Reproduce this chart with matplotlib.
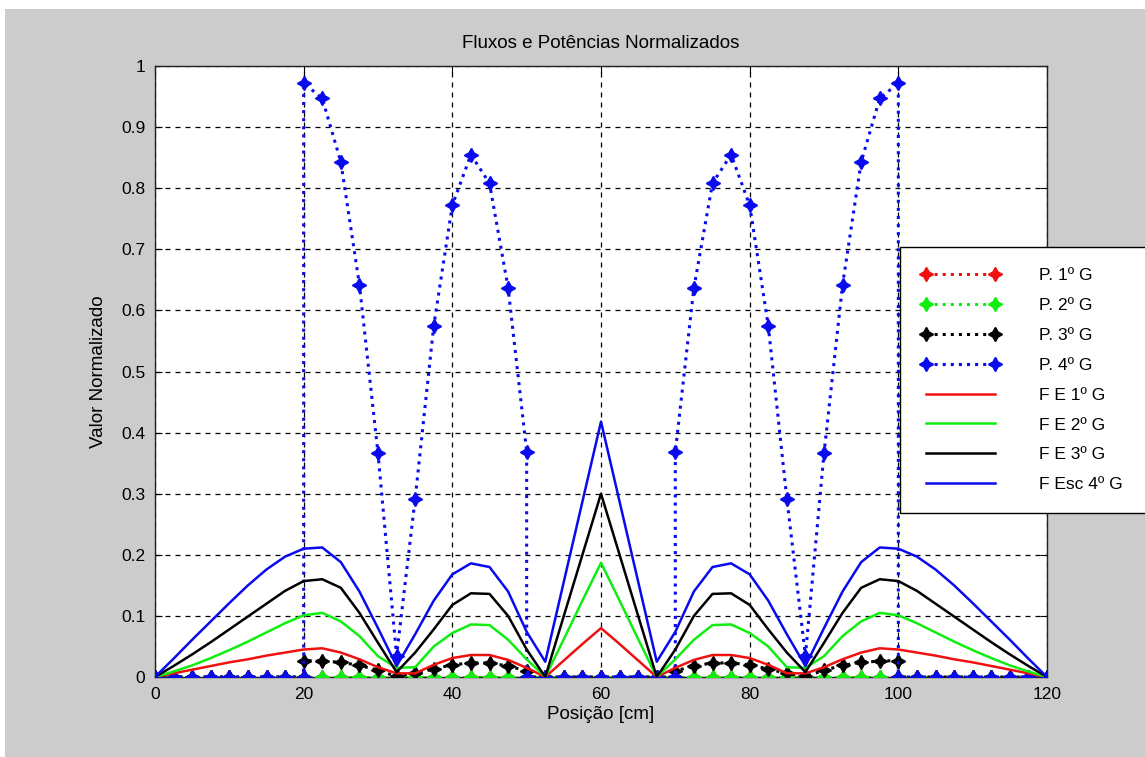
import matplotlib
matplotlib.use('Agg')
import matplotlib.pyplot as plt
from matplotlib.patches import Rectangle

plt.rcParams['font.family'] = ['Liberation Sans', 'DejaVu Sans']

# posições (cm) dos fluxos
x_f = [0, 2.5, 5, 7.5, 10, 12.5, 15, 17.5, 20, 22.5, 25, 27.5, 30, 32.5, 35, 37.5, 40, 42.5,
       45, 47.5, 50, 52.5, 55, 57.5, 60, 62.5, 65, 67.5, 70, 72.5, 75, 77.5, 80, 82.5, 85,
       87.5, 90, 92.5, 95, 97.5, 100, 102.5, 105, 107.5, 110, 112.5, 115, 117.5, 120]

fe1 = [0, 0.006, 0.012, 0.018, 0.024, 0.029, 0.035, 0.040, 0.045, 0.047, 0.040, 0.029, 0.016,
       0.006, 0.006, 0.020, 0.031, 0.036, 0.036, 0.028, 0.015, 0.0, 0.027, 0.054, 0.080,
       0.054, 0.027, 0.0, 0.015, 0.028, 0.036, 0.036, 0.031, 0.020, 0.006, 0.006, 0.016,
       0.029, 0.040, 0.047, 0.045, 0.040, 0.035, 0.029, 0.024, 0.018, 0.012, 0.006, 0]
fe2 = [0, 0.009, 0.019, 0.031, 0.044, 0.058, 0.073, 0.088, 0.101, 0.105, 0.091, 0.067, 0.034,
       0.015, 0.016, 0.050, 0.072, 0.086, 0.085, 0.061, 0.029, 0.0, 0.062, 0.125, 0.187,
       0.125, 0.062, 0.0, 0.029, 0.061, 0.085, 0.086, 0.072, 0.050, 0.016, 0.015, 0.034,
       0.067, 0.091, 0.105, 0.101, 0.088, 0.073, 0.058, 0.044, 0.031, 0.019, 0.009, 0]
fe3 = [0, 0.018, 0.037, 0.057, 0.078, 0.099, 0.120, 0.141, 0.157, 0.160, 0.146, 0.105, 0.056,
       0.008, 0.040, 0.078, 0.118, 0.137, 0.136, 0.100, 0.045, 0.0, 0.100, 0.200, 0.300,
       0.200, 0.100, 0.0, 0.045, 0.100, 0.136, 0.137, 0.118, 0.078, 0.040, 0.008, 0.056,
       0.105, 0.146, 0.160, 0.157, 0.141, 0.120, 0.099, 0.078, 0.057, 0.037, 0.018, 0]
fe4 = [0, 0.030, 0.061, 0.091, 0.121, 0.150, 0.176, 0.197, 0.210, 0.212, 0.188, 0.140, 0.080,
       0.018, 0.070, 0.125, 0.168, 0.186, 0.180, 0.140, 0.074, 0.025, 0.156, 0.287, 0.418,
       0.287, 0.156, 0.025, 0.074, 0.140, 0.180, 0.186, 0.168, 0.125, 0.070, 0.018, 0.080,
       0.140, 0.188, 0.212, 0.210, 0.197, 0.176, 0.150, 0.121, 0.091, 0.061, 0.030, 0]

# posições (cm) das potências (pontos repetidos nas interfaces)
x_p = [0, 2.5, 5, 7.5, 10, 12.5, 15, 17.5, 20,
       20, 22.5, 25, 27.5, 30, 32.5, 35, 37.5, 40, 42.5, 45, 47.5, 50,
       50, 52.5, 55, 57.5, 60, 62.5, 65, 67.5, 70,
       70, 72.5, 75, 77.5, 80, 82.5, 85, 87.5, 90, 92.5, 95, 97.5, 100,
       100, 102.5, 105, 107.5, 110, 112.5, 115, 117.5, 120]

p1 = [0, 0, 0, 0, 0, 0, 0, 0, 0,
      0, 0, 0, 0, 0, 0, 0, 0, 0, 0, 0, 0, 0,
      0, 0, 0, 0, 0, 0, 0, 0, 0,
      0, 0, 0, 0, 0, 0, 0, 0, 0, 0, 0, 0, 0,
      0, 0, 0, 0, 0, 0, 0, 0, 0]
p2 = [0, 0, 0, 0, 0, 0, 0, 0, 0,
      0, 0, 0, 0, 0, 0, 0, 0, 0, 0, 0, 0, 0,
      0, 0, 0, 0, 0, 0, 0, 0, 0,
      0, 0, 0, 0, 0, 0, 0, 0, 0, 0, 0, 0, 0,
      0, 0, 0, 0, 0, 0, 0, 0, 0]
p3 = [0, 0, 0, 0, 0, 0, 0, 0, 0,
      0.027, 0.026, 0.024, 0.019, 0.011, 0.001, 0.006, 0.013, 0.020, 0.023, 0.023, 0.018, 0.010,
      0, 0, 0, 0, 0, 0, 0, 0, 0,
      0.010, 0.018, 0.023, 0.023, 0.020, 0.013, 0.006, 0.001, 0.011, 0.019, 0.024, 0.026, 0.027,
      0, 0, 0, 0, 0, 0, 0, 0, 0]
p4 = [0, 0, 0, 0, 0, 0, 0, 0, 0,
      0.972, 0.947, 0.843, 0.642, 0.366, 0.035, 0.292, 0.575, 0.772, 0.855, 0.808, 0.637, 0.369,
      0, 0, 0, 0, 0, 0, 0, 0, 0,
      0.369, 0.637, 0.808, 0.855, 0.772, 0.575, 0.292, 0.035, 0.366, 0.642, 0.843, 0.947, 0.972,
      0, 0, 0, 0, 0, 0, 0, 0, 0]

labels = ['P. 1º G', 'P. 2º G', 'P. 3º G', 'P. 4º G',
          'F E 1º G', 'F E 2º G', 'F E 3º G', 'F Esc 4º G']
cores = ['#f01010', '#10ee10', '#000000', '#0a0aee']

fig = plt.figure(figsize=(11.45, 7.57), dpi=100, facecolor='#cccccc')
# faixas brancas do print
fig.patches.append(Rectangle((0, 1 - 9 / 757), 1, 9 / 757, transform=fig.transFigure,
                             facecolor='white', edgecolor='none', zorder=-5))
fig.patches.append(Rectangle((0, 0), 5 / 1145, 1, transform=fig.transFigure,
                             facecolor='white', edgecolor='none', zorder=-5))

ax = fig.add_axes([155 / 1145, 80 / 757, 892 / 1145, 611 / 757])
ax.set_facecolor('white')

mk = (4, 1, 0)
handles = []
for yv, c in zip([p1, p2, p3, p4], cores):
    h, = ax.plot(x_p, yv, linestyle=':', color=c, lw=2.2, marker=mk, markersize=10,
                 markerfacecolor=c, markeredgecolor=c, markeredgewidth=1.2, zorder=3)
    handles.append(h)
for yv, c in zip([fe1, fe2, fe3, fe4], cores):
    h, = ax.plot(x_f, yv, linestyle='-', color=c, lw=1.8, zorder=4)
    handles.append(h)

ax.set_xlim(0, 120)
ax.set_ylim(0, 1)
ax.set_xticks([0, 20, 40, 60, 80, 100, 120])
ax.set_yticks([0, 0.1, 0.2, 0.3, 0.4, 0.5, 0.6, 0.7, 0.8, 0.9, 1])
ax.set_yticklabels(['0', '0.1', '0.2', '0.3', '0.4', '0.5', '0.6', '0.7', '0.8', '0.9', '1'])
ax.tick_params(direction='in', length=5, top=True, right=True, labelsize=12.5, pad=7,
               colors='black')
ax.grid(True, color='black', linestyle=(0, (4, 4)), lw=0.9)
for s in ax.spines.values():
    s.set_linewidth(1.0)
    s.set_color('#222222')

ax.set_title('Fluxos e Potências Normalizados', fontsize=13.5, pad=13)
ax.set_xlabel('Posição [cm]', fontsize=13.5, labelpad=3)
ax.set_ylabel('Valor Normalizado', fontsize=13.5, labelpad=10)

leg = fig.legend(handles, labels, loc='upper left',
                 bbox_to_anchor=(900 / 1145, 1 - 247 / 757 - 0.01, 0.3, 0.01), mode='expand',
                 borderaxespad=0, fontsize=12.5, numpoints=2, handlelength=4.6,
                 handletextpad=2.2, labelspacing=0.85, borderpad=1.2, fancybox=False,
                 framealpha=1, edgecolor='black')
leg.get_frame().set_linewidth(1.0)

fig.savefig('out.png', dpi=100, facecolor=fig.get_facecolor())
